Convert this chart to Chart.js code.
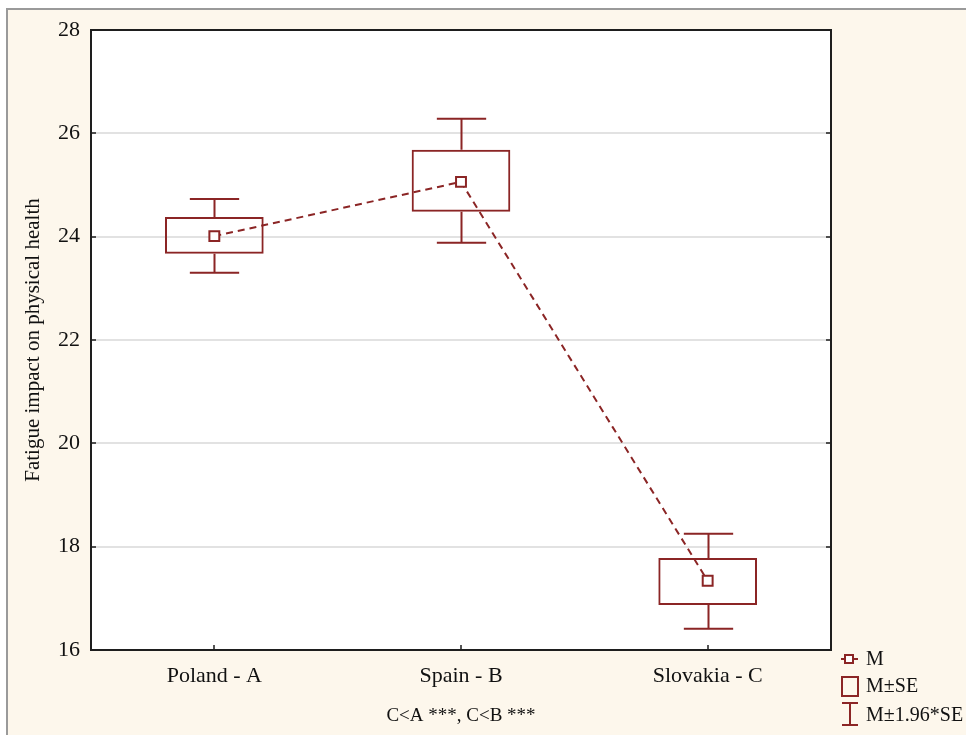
<!DOCTYPE html>
<html>
<head>
<meta charset="utf-8">
<script src="https://cdn.jsdelivr.net/npm/chart.js@4/dist/chart.umd.min.js"></script>
<style>
  html, body { margin: 0; padding: 0; background: #fff; }
  #frame { position: absolute; left: 6px; top: 8px; width: 1000px; height: 800px;
           background: #fdf7ec; border-left: 2px solid #9a9a9a; border-top: 2px solid #9a9a9a; }
  #wrap { position: absolute; left: 0; top: 0; width: 966px; height: 735px; }
</style>
</head>
<body>
<div id="frame"></div>
<div id="wrap"><canvas id="chart"></canvas></div>
<script>
// values
const groups = ['Poland - A', 'Spain - B', 'Slovakia - C'];
const means = [24.01, 25.06, 17.34];
const seLow = [23.67, 24.48, 16.87];
const seHigh = [24.38, 25.68, 17.78];
const ciLow = [23.30, 23.88, 16.41];
const ciHigh = [24.73, 26.28, 18.25];
const yTicks = [16, 18, 20, 22, 24, 26, 28];
const footNote = 'C<A ***, C<B ***';

const maroon = '#8b2525';
const serif = "'Liberation Serif', 'DejaVu Serif', serif";

const frameAndWhiskers = {
  id: 'frameAndWhiskers',
  beforeDraw(chart) {
    const { ctx, chartArea: a } = chart;
    ctx.save();
    ctx.fillStyle = '#fff';
    ctx.fillRect(a.left, a.top, a.right - a.left, a.bottom - a.top);
    ctx.restore();
  },
  beforeDatasetsDraw(chart) {
    const { ctx, scales: { x, y } } = chart;
    const cap = x.width / groups.length * 0.2;
    ctx.save();
    ctx.strokeStyle = maroon;
    ctx.lineWidth = 2;
    groups.forEach((g, i) => {
      const cx = Math.round(x.getPixelForValue(i)) + 0.5;
      const yHi = y.getPixelForValue(ciHigh[i]);
      const yLo = y.getPixelForValue(ciLow[i]);
      ctx.beginPath();
      ctx.moveTo(cx, yHi); ctx.lineTo(cx, y.getPixelForValue(seHigh[i]));
      ctx.moveTo(cx, yLo); ctx.lineTo(cx, y.getPixelForValue(seLow[i]));
      ctx.moveTo(cx - cap / 2, yHi); ctx.lineTo(cx + cap / 2, yHi);
      ctx.moveTo(cx - cap / 2, yLo); ctx.lineTo(cx + cap / 2, yLo);
      ctx.stroke();
    });
    ctx.restore();
  },
  afterDraw(chart) {
    const { ctx, chartArea: a, scales: { x, y } } = chart;
    ctx.save();
    ctx.strokeStyle = '#1e1e1e';
    ctx.lineWidth = 2;
    ctx.strokeRect(a.left, a.top, a.right - a.left, a.bottom - a.top);
    // inward tick marks
    ctx.lineWidth = 1.5;
    ctx.beginPath();
    yTicks.forEach(v => {
      const py = Math.round(y.getPixelForValue(v));
      ctx.moveTo(a.left, py); ctx.lineTo(a.left + 5, py);
      ctx.moveTo(a.right, py); ctx.lineTo(a.right - 5, py);
    });
    groups.forEach((g, i) => {
      const px = Math.round(x.getPixelForValue(i));
      ctx.moveTo(px, a.bottom); ctx.lineTo(px, a.bottom - 5);
    });
    ctx.stroke();

    // legend
    ctx.strokeStyle = maroon;
    ctx.lineWidth = 2;
    ctx.beginPath();
    ctx.moveTo(841, 659); ctx.lineTo(858, 659);
    ctx.stroke();
    ctx.fillStyle = '#fff';
    ctx.fillRect(845, 655, 8, 8);
    ctx.strokeRect(845, 655, 8, 8);
    ctx.strokeRect(842, 677, 16, 19);
    ctx.beginPath();
    ctx.moveTo(850, 703); ctx.lineTo(850, 725);
    ctx.moveTo(842, 703); ctx.lineTo(858, 703);
    ctx.moveTo(842, 725); ctx.lineTo(858, 725);
    ctx.stroke();
    ctx.fillStyle = '#111';
    ctx.font = '20px ' + serif;
    ctx.textBaseline = 'middle';
    ctx.fillText('M', 866, 660);
    ctx.fillText('M\u00b1SE', 866, 687);
    ctx.fillText('M\u00b11.96*SE', 866, 716);
    ctx.restore();
  }
};

new Chart(document.getElementById('chart'), {
  data: {
    labels: groups,
    datasets: [
      {
        type: 'line',
        label: 'M',
        data: means,
        borderColor: maroon,
        borderWidth: 2,
        borderDash: [7, 5],
        pointStyle: 'rect',
        pointRadius: 7,
        pointBorderWidth: 2,
        pointBackgroundColor: '#fff',
        pointBorderColor: maroon,
        order: 0,
      },
      {
        type: 'bar',
        label: 'M\u00b1SE',
        data: groups.map((g, i) => [seLow[i], seHigh[i]]),
        backgroundColor: 'rgba(0,0,0,0)',
        borderColor: maroon,
        borderWidth: 2,
        borderSkipped: false,
        categoryPercentage: 1,
        barPercentage: 0.4,
        order: 1,
      },
    ],
  },
  options: {
    responsive: true,
    maintainAspectRatio: false,
    animation: false,
    layout: { padding: { top: 30, right: 135, left: 0, bottom: 0 } },
    plugins: {
      legend: { display: false },
      tooltip: { enabled: false },
    },
    scales: {
      x: {
        type: 'category',
        offset: true,
        grid: { display: false, drawTicks: false },
        border: { display: false },
        ticks: { color: '#111', padding: 13, font: { family: serif, size: 22 } },
        title: {
          display: true,
          text: footNote,
          color: '#111',
          font: { family: serif, size: 19 },
          padding: { top: 0, bottom: 8 },
        },
        afterFit(scale) { scale.height = 85; },
      },
      y: {
        min: 16,
        max: 28,
        afterBuildTicks(scale) { scale.ticks = yTicks.map(v => ({ value: v })); },
        grid: {
          color: ctx => (ctx.tick.value === 16 || ctx.tick.value === 28) ? 'rgba(0,0,0,0)' : '#e2e2e2',
          lineWidth: 2,
          drawTicks: false,
        },
        border: { display: false },
        ticks: { color: '#111', padding: 11, font: { family: serif, size: 22 } },
        title: {
          display: true,
          text: 'Fatigue impact on physical health',
          color: '#111',
          font: { family: serif, size: 21 },
          padding: { top: 21, bottom: 0 },
        },
        afterFit(scale) { scale.width = 91; },
      },
    },
  },
  plugins: [frameAndWhiskers],
});
</script>
</body>
</html>
